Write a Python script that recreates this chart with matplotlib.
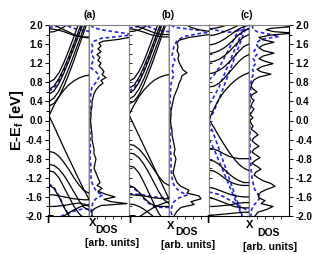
import matplotlib.pyplot as plt

plt.rcParams['font.family'] = ['Liberation Sans', 'DejaVu Sans']
plt.rcParams['font.weight'] = 'bold'
plt.rcParams['mathtext.fontset'] = 'custom'
plt.rcParams['mathtext.rm'] = 'Liberation Sans:bold'
plt.rcParams['mathtext.it'] = 'Liberation Sans:bold'
plt.rcParams['mathtext.bf'] = 'Liberation Sans:bold'

# k path Gamma -> X
K = [0, 0.125, 0.25, 0.375, 0.5, 0.625, 0.75, 0.875, 1.0]

# ---- panel (a) bands ----
bands_a = [
    [0.10, 0.32, 0.50, 0.64, 0.75, 0.83, 0.89, 0.93, 0.95],
    [0.30, 0.36, 0.50, 0.72, 0.98, 1.26, 1.56, 1.86, 2.15],
    [0.40, 0.47, 0.62, 0.85, 1.10, 1.38, 1.66, 1.95, 2.25],
    [0.55, 0.62, 0.78, 1.00, 1.25, 1.52, 1.80, 2.08, 2.35],
    [0.65, 0.72, 0.88, 1.10, 1.35, 1.62, 1.90, 2.18, 2.40],
    [0.80, 0.86, 1.00, 1.22, 1.48, 1.76, 2.05, 2.30, 2.50],
    [1.92, 1.91, 1.89, 1.86, 1.82, 1.78, 1.76, 1.75, 1.75],
    [2.05, 2.00, 1.95, 1.90, 1.85, 1.80, 1.77, 1.74, 1.73],
    [1.85, 1.86, 1.90, 1.96, 2.03, 2.10, 2.15, 2.18, 2.20],
    [0.10, -0.12, -0.35, -0.58, -0.80, -1.02, -1.24, -1.45, -1.65],
    [-0.65, -0.67, -0.75, -0.88, -1.03, -1.20, -1.35, -1.47, -1.52],
    [-0.92, -0.94, -1.02, -1.15, -1.32, -1.50, -1.68, -1.82, -1.88],
    [-1.05, -1.08, -1.20, -1.40, -1.60, -1.80, -1.95, -2.05, -2.10],
    [-1.35, -1.42, -1.60, -1.82, -2.00, -2.10, -2.20, -2.25, -2.30],
    [-1.55, -1.56, -1.58, -1.60, -1.62, -1.64, -1.65, -1.66, -1.66],
    [-1.80, -1.80, -1.79, -1.78, -1.76, -1.74, -1.73, -1.75, -1.80],
    [-2.20, -2.15, -2.08, -2.00, -1.93, -1.87, -1.82, -1.78, -1.76],
]
bands_a_dash = [
    [0.62, 0.68, 0.84, 1.06, 1.30, 1.58, 1.85, 2.12, 2.40],
    [1.95, 1.96, 1.98, 2.00, 1.97, 1.93, 1.90, 1.88, 1.87],
    [-1.33, -1.40, -1.58, -1.80, -2.00, -2.10, -2.20, -2.25, -2.30],
    [-2.10, -2.06, -2.02, -1.98, -1.94, -1.90, -1.87, -1.85, -1.85],
]

# ---- panel (b) bands ----
bands_b = [
    [0.12, 0.32, 0.50, 0.64, 0.75, 0.84, 0.90, 0.94, 0.96],
    [0.35, 0.40, 0.54, 0.76, 1.02, 1.30, 1.60, 1.90, 2.20],
    [0.45, 0.51, 0.66, 0.88, 1.14, 1.42, 1.70, 1.98, 2.28],
    [0.58, 0.64, 0.80, 1.02, 1.28, 1.56, 1.84, 2.12, 2.40],
    [0.68, 0.74, 0.90, 1.13, 1.38, 1.66, 1.94, 2.22, 2.45],
    [0.82, 0.88, 1.03, 1.25, 1.52, 1.80, 2.08, 2.35, 2.55],
    [1.92, 1.91, 1.88, 1.85, 1.81, 1.78, 1.76, 1.75, 1.75],
    [2.05, 2.00, 1.96, 1.92, 1.88, 1.84, 1.81, 1.80, 1.80],
    [1.86, 1.87, 1.90, 1.95, 2.02, 2.08, 2.12, 2.15, 2.16],
    [0.12, -0.10, -0.32, -0.54, -0.76, -0.98, -1.20, -1.42, -1.64],
    [-0.50, -0.52, -0.60, -0.72, -0.87, -1.03, -1.18, -1.30, -1.36],
    [-0.68, -0.70, -0.78, -0.92, -1.10, -1.30, -1.50, -1.66, -1.74],
    [-0.95, -0.98, -1.10, -1.30, -1.52, -1.75, -1.95, -2.10, -2.15],
    [-1.36, -1.40, -1.50, -1.62, -1.72, -1.78, -1.80, -1.80, -1.80],
    [-1.55, -1.56, -1.57, -1.58, -1.60, -1.62, -1.63, -1.64, -1.64],
    [-1.75, -1.76, -1.80, -1.86, -1.94, -2.02, -2.10, -2.15, -2.20],
    [-2.15, -2.10, -2.02, -1.95, -1.88, -1.82, -1.77, -1.73, -1.70],
]
bands_b_dash = [
    [0.62, 0.68, 0.84, 1.06, 1.32, 1.60, 1.88, 2.15, 2.42],
    [1.94, 1.95, 1.97, 1.99, 1.96, 1.92, 1.89, 1.87, 1.86],
    [-1.36, -1.42, -1.52, -1.64, -1.74, -1.80, -1.82, -1.82, -1.82],
    [-1.53, -1.54, -1.55, -1.56, -1.58, -1.60, -1.61, -1.62, -1.62],
]

# ---- panel (c) bands ----
bands_c = [
    [0.02, 0.25, 0.45, 0.60, 0.72, 0.82, 0.90, 0.96, 1.00],
    [0.70, 0.72, 0.78, 0.88, 1.00, 1.12, 1.24, 1.33, 1.38],
    [0.98, 1.00, 1.05, 1.12, 1.22, 1.33, 1.45, 1.55, 1.60],
    [1.22, 1.24, 1.28, 1.35, 1.44, 1.55, 1.66, 1.75, 1.80],
    [1.40, 1.42, 1.46, 1.52, 1.60, 1.70, 1.80, 1.88, 1.92],
    [1.58, 1.60, 1.64, 1.70, 1.77, 1.85, 1.92, 1.97, 2.00],
    [1.78, 1.79, 1.82, 1.86, 1.90, 1.95, 2.00, 2.05, 2.10],
    [1.92, 1.93, 1.95, 1.98, 2.02, 2.06, 2.10, 2.14, 2.16],
    [0.02, -0.15, -0.33, -0.50, -0.66, -0.80, -0.92, -1.00, -1.05],
    [-0.58, -0.60, -0.64, -0.70, -0.75, -0.78, -0.80, -0.80, -0.80],
    [-0.83, -0.85, -0.92, -1.02, -1.12, -1.20, -1.26, -1.30, -1.30],
    [-1.04, -1.06, -1.12, -1.20, -1.27, -1.32, -1.35, -1.36, -1.36],
    [-1.40, -1.42, -1.46, -1.50, -1.54, -1.57, -1.59, -1.60, -1.60],
    [-1.62, -1.64, -1.68, -1.72, -1.76, -1.80, -1.82, -1.83, -1.83],
    [-1.80, -1.80, -1.79, -1.78, -1.77, -1.75, -1.73, -1.72, -1.72],
    [-1.98, -1.98, -1.97, -1.96, -1.95, -1.94, -1.93, -1.92, -1.92],
]
bands_c_dash = [
    [0.00, 0.20, 0.45, 0.72, 1.00, 1.28, 1.56, 1.84, 2.10],
    [0.35, 0.50, 0.70, 0.95, 1.20, 1.45, 1.70, 1.95, 2.20],
    [0.85, 0.95, 1.10, 1.30, 1.50, 1.70, 1.90, 2.10, 2.30],
    [-0.05, -0.30, -0.60, -0.90, -1.20, -1.50, -1.80, -2.10, -2.40],
    [-0.40, -0.60, -0.85, -1.10, -1.35, -1.60, -1.85, -2.10, -2.35],
    [-1.50, -1.52, -1.55, -1.60, -1.66, -1.72, -1.78, -1.84, -1.90],
    [1.92, 1.90, 1.88, 1.86, 1.85, 1.86, 1.88, 1.90, 1.92],
]

# ---- DOS curves (energy, DOS in arb. units) ----
dos_a_E = [2.0, 1.9, 1.8, 1.74, 1.7, 1.66, 1.62, 1.56, 1.5, 1.44,
           1.38, 1.32, 1.26, 1.2, 1.14, 1.08, 1.02, 0.96, 0.9, 0.84,
           0.78, 0.72, 0.64, 0.56, 0.48, 0.4, 0.3, 0.2, 0.1, 0.0,
           -0.1, -0.2, -0.3, -0.4, -0.5, -0.6, -0.7, -0.8, -0.9, -1.0,
           -1.1, -1.2, -1.3, -1.36, -1.42, -1.48, -1.54, -1.6, -1.65, -1.7,
           -1.74, -1.78, -1.84, -1.9, -2.0]
dos_a = [45, 45, 45, 40, 30, 14, 10, 12, 9, 12,
         8, 11, 9, 12, 10, 13, 15, 13, 17, 12,
         14, 10, 7, 5, 4, 3, 3, 2, 2, 1.5,
         2, 2.5, 3, 3, 4, 5, 5, 7, 6, 5,
         7, 9, 11, 8, 13, 9, 16, 26, 15, 22,
         38, 12, 6, 3, 3]
dos_a_dash_E = [2.0, 1.95, 1.9, 1.85, 1.8, 1.76, 1.72, 1.66, 1.6, 1.5,
                1.4, 1.3, 1.2, 1.1, 1.0, 0.9, 0.8, 0.7, 0.6, 0.4,
                0.2, 0.0, -0.2, -0.4, -0.6, -0.8, -1.0, -1.2, -1.3, -1.4,
                -1.5, -1.56, -1.62, -1.7, -1.8, -1.9, -2.0]
dos_a_dash = [2, 4, 12, 28, 45, 30, 12, 5, 3, 4,
              2, 5, 3, 2, 8, 10, 7, 3, 2, 1,
              1, 0.5, 1, 1, 1.5, 1, 2, 2, 3, 5,
              8, 14, 8, 4, 3, 2, 3]

dos_b_E = [2.0, 1.95, 1.9, 1.85, 1.8, 1.74, 1.68, 1.62, 1.54, 1.46,
           1.38, 1.3, 1.22, 1.14, 1.06, 1.0, 0.94, 0.86, 0.78, 0.7,
           0.6, 0.5, 0.4, 0.3, 0.2, 0.1, 0.0, -0.1, -0.2, -0.3,
           -0.4, -0.5, -0.6, -0.7, -0.8, -0.9, -1.0, -1.1, -1.2, -1.3,
           -1.38, -1.46, -1.52, -1.58, -1.64, -1.7, -1.76, -1.82, -1.9, -2.0]
dos_b = [18, 22, 30, 45, 40, 20, 10, 8, 9, 8,
         10, 9, 10, 12, 14, 18, 13, 12, 10, 9,
         7, 5, 4, 3, 2, 2, 1.5, 2, 3, 3,
         4, 5, 6, 5, 7, 6, 5, 4, 6, 8,
         12, 20, 18, 30, 32, 22, 25, 12, 8, 5]
dos_b_dash_E = [2.0, 1.95, 1.9, 1.86, 1.82, 1.76, 1.7, 1.64, 1.56, 1.46,
                1.36, 1.26, 1.16, 1.06, 0.96, 0.86, 0.76, 0.6, 0.4, 0.2,
                0.0, -0.2, -0.4, -0.6, -0.8, -1.0, -1.2, -1.3, -1.4, -1.5,
                -1.56, -1.62, -1.7, -1.8, -1.9, -2.0]
dos_b_dash = [2, 6, 25, 45, 30, 15, 10, 7, 5, 4,
              3, 6, 4, 3, 5, 3, 2, 1.5, 1, 1,
              0.5, 1, 1, 1.5, 2, 2, 3, 4, 6, 12,
              18, 10, 5, 3, 2, 3]

dos_c_E = [2.0, 1.97, 1.93, 1.9, 1.86, 1.83, 1.79, 1.74, 1.69, 1.64,
           1.58, 1.52, 1.46, 1.41, 1.35, 1.29, 1.24, 1.19, 1.13, 1.07,
           1.02, 0.97, 0.91, 0.85, 0.78, 0.72, 0.66, 0.6, 0.54, 0.48,
           0.42, 0.36, 0.3, 0.24, 0.18, 0.12, 0.06, 0.0, -0.06, -0.12,
           -0.18, -0.24, -0.3, -0.36, -0.42, -0.48, -0.54, -0.6, -0.66, -0.72,
           -0.78, -0.84, -0.9, -0.96, -1.02, -1.08, -1.14, -1.2, -1.26, -1.32,
           -1.38, -1.44, -1.5, -1.56, -1.62, -1.68, -1.74, -1.8, -1.86, -1.92,
           -2.0]
dos_c = [30, 45, 22, 17, 25, 45, 22, 10, 14, 25,
         14, 10, 15, 25, 14, 10, 16, 24, 13, 8,
         12, 22, 10, 5, 3, 2, 4, 8, 3, 2,
         5, 3, 2, 5, 3, 1, 4, 1, 2, 4,
         2, 6, 9, 5, 3, 6, 10, 5, 3, 7,
         11, 6, 3, 8, 12, 7, 5, 9, 14, 22,
         26, 18, 12, 9, 10, 16, 12, 24, 18, 9,
         6]
dos_c_dash_E = [2.0, 1.92, 1.86, 1.8, 1.76, 1.7, 1.62, 1.54, 1.46, 1.38,
                1.3, 1.2, 1.1, 1.0, 0.9, 0.8, 0.6, 0.4, 0.2, 0.0,
                -0.2, -0.4, -0.6, -0.8, -1.0, -1.2, -1.3, -1.4, -1.5, -1.6,
                -1.7, -1.8, -1.9, -2.0]
dos_c_dash = [3, 4, 8, 22, 30, 12, 7, 9, 5, 8,
              4, 7, 3, 5, 3, 2, 1.5, 1, 1, 0.5,
              1, 1, 1, 1.5, 2, 3, 4, 5, 7, 12,
              8, 4, 2, 2]

YTICKS = [-2.0, -1.6, -1.2, -0.8, -0.4, 0.0, 0.4, 0.8, 1.2, 1.6, 2.0]
YMINOR = [-1.8, -1.4, -1.0, -0.6, -0.2, 0.2, 0.6, 1.0, 1.4, 1.8]
BLUE = '#2424d6'

W, H = 332, 254
fig = plt.figure(figsize=(W / 100, H / 100), dpi=100)
x0, x1, y0, y1 = 49, 289, 25, 216
pw = (x1 - x0) / 6
axes = [fig.add_axes([(x0 + i * pw) / W, 1 - y1 / H, pw / W, (y1 - y0) / H])
        for i in range(6)]

band_sets = [(bands_a, bands_a_dash), (bands_b, bands_b_dash), (bands_c, bands_c_dash)]
dos_sets = [(dos_a_E, dos_a, dos_a_dash_E, dos_a_dash),
            (dos_b_E, dos_b, dos_b_dash_E, dos_b_dash),
            (dos_c_E, dos_c, dos_c_dash_E, dos_c_dash)]

for p in range(3):
    axb = axes[2 * p]
    axd = axes[2 * p + 1]
    solid, dash = band_sets[p]
    for b in dash:
        axb.plot(K, b, color=BLUE, lw=1.2, ls=(0, (2.2, 1.6)))
    for b in solid:
        axb.plot(K, b, color='k', lw=0.9)
    axb.set_xlim(0, 1)
    Eb, Db, Ed, Dd = dos_sets[p]
    axd.plot(Dd, Ed, color=BLUE, lw=1.2, ls=(0, (2.2, 1.6)))
    axd.plot(Db, Eb, color='k', lw=0.9)
    axd.set_xlim(0, 40)

for i, ax in enumerate(axes):
    ax.set_ylim(-2.0, 2.0)
    ax.set_yticks(YTICKS)
    ax.set_yticks(YMINOR, minor=True)
    for s in ax.spines.values():
        s.set_color('0.5')
        s.set_linewidth(0.8)
    ax.spines['bottom'].set_color('k')
    if i % 2 == 0:
        ax.spines['right'].set_color('k')
        ax.spines['right'].set_linewidth(1.0)
        ax.set_xticks([])
    else:
        ax.set_xticks([8, 16, 24, 32])
        ax.tick_params(axis='x', direction='out', length=2, width=0.6, labelbottom=False)
    if i == 0:
        ax.spines['left'].set_color('k')
        ax.tick_params(axis='y', which='both', direction='out', length=3, width=0.7,
                       labelsize=7, pad=1.5)
        ax.tick_params(axis='y', which='minor', length=2)
        ax.set_yticklabels([f'{v:.1f}' for v in YTICKS])
    elif i == 5:
        ax.spines['right'].set_color('k')
        ax.yaxis.tick_right()
        ax.tick_params(axis='y', which='both', direction='out', length=3, width=0.7,
                       labelsize=7, pad=1.5)
        ax.tick_params(axis='y', which='minor', length=2)
        ax.set_yticklabels([f'{v:.1f}' for v in YTICKS])
    elif i % 2 == 0:
        ax.tick_params(axis='y', which='both', direction='in', length=2, width=0.6,
                       labelleft=False)
    else:
        ax.tick_params(axis='y', which='both', left=False, labelleft=False)

def px(x, y):
    return x / W, 1 - y / H

for lab, x in [('(a)', 90), ('(b)', 168), ('(c)', 247)]:
    fig.text(*px(x, 15), lab, ha='center', va='center', fontsize=7.5)

fig.text(*px(17, 120), 'E-E$_f$ [eV]', rotation=90, ha='center', va='center', fontsize=10.5)

for g, xx, d, a in [((50, 220), (93, 223), (106, 230), (112, 243)),
                    ((132, 220), (171, 226), (186, 232), (188, 245)),
                    ((210, 220), (250, 225), (268, 233), (270, 247))]:
    fig.text(*px(*g), '\u0393', ha='center', va='center', fontsize=8)
    fig.text(*px(*xx), 'X', ha='center', va='center', fontsize=8)
    fig.text(*px(*d), 'DOS', ha='center', va='center', fontsize=7.5)
    fig.text(*px(*a), '[arb. units]', ha='center', va='center', fontsize=7.5)

fig.savefig('out.png', dpi=100)
